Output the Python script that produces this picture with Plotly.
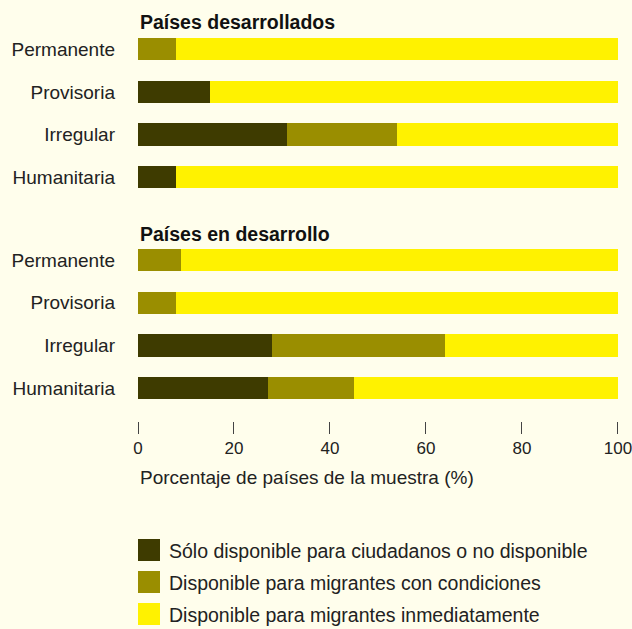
import plotly.graph_objects as go
from plotly.subplots import make_subplots

categories = ["Permanente", "Provisoria", "Irregular", "Humanitaria"]
series_names = [
    "Sólo disponible para ciudadanos o no disponible",
    "Disponible para migrantes con condiciones",
    "Disponible para migrantes inmediatamente",
]
developed_none = [0, 15, 31, 8]
developed_cond = [8, 0, 23, 0]
developed_now = [92, 85, 46, 92]
developing_none = [0, 0, 28, 27]
developing_cond = [9, 8, 36, 18]
developing_now = [91, 92, 36, 55]
panel_titles = ["Países desarrollados", "Países en desarrollo"]
x_ticks = [0, 20, 40, 60, 80, 100]
x_title = "Porcentaje de países de la muestra (%)"

colors = ["#3e3b00", "#9a8e00", "#fff200"]
bg = "#fffeec"
txt = "#222222"
font = "Liberation Sans, Arial, sans-serif"

W, H = 632, 629
L, R, T, B = 138, 14, 28, 208
pw, ph = W - L - R, H - T - B


def px_x(p):
    return (p - L) / pw


def px_y(p):
    return (H - B - p) / ph


fig = make_subplots(rows=2, cols=1, shared_xaxes=True)

panels = [
    (developed_none, developed_cond, developed_now),
    (developing_none, developing_cond, developing_now),
]
for row, vals in enumerate(panels, start=1):
    for name, v, c in zip(series_names, vals, colors):
        fig.add_trace(
            go.Bar(y=categories, x=v, name=name, orientation="h",
                   marker=dict(color=c, line_width=0), showlegend=False),
            row=row, col=1,
        )

fig.update_layout(
    width=W, height=H,
    margin=dict(l=L, r=R, t=T, b=B, autoexpand=False),
    paper_bgcolor=bg, plot_bgcolor=bg,
    barmode="stack", bargap=0.48,
    font=dict(family=font, size=19, color=txt),
)

fig.update_yaxes(categoryorder="array", categoryarray=categories,
                 ticks="", showgrid=False, zeroline=False, showline=False,
                 automargin=False,
                 ticklabelstandoff=22, tickfont=dict(size=19, color=txt))
fig.update_yaxes(domain=[px_y(198.3), 1], range=[3.5, -0.5], row=1, col=1)
fig.update_yaxes(domain=[0, px_y(238.7)], range=[3.77, -0.5], row=2, col=1)

fig.update_xaxes(range=[0, 100.01], showgrid=False, zeroline=False,
                 showline=False, automargin=False)
fig.update_xaxes(showticklabels=False, ticks="", row=1, col=1)
fig.update_xaxes(tickvals=x_ticks, ticks="outside", ticklen=12,
                 tickcolor="#444444", tickwidth=1, ticklabeloverflow="allow",
                 tickfont=dict(size=17, color=txt), row=2, col=1)

for title, yp in zip(panel_titles, [22, 234]):
    fig.add_annotation(text="<b>%s</b>" % title, xref="paper", yref="paper",
                       x=px_x(138), y=px_y(yp), xanchor="left",
                       yanchor="middle", showarrow=False,
                       font=dict(size=19.5, color="#111111"))

fig.add_annotation(text=x_title, xref="paper", yref="paper",
                   x=px_x(138), y=px_y(477), xanchor="left", yanchor="middle",
                   showarrow=False, font=dict(size=19, color=txt))

for i, (name, c) in enumerate(zip(series_names, colors)):
    top = 539 + i * 32
    fig.add_shape(type="rect", xref="paper", yref="paper",
                  x0=px_x(138), x1=px_x(160), y0=px_y(top + 22), y1=px_y(top),
                  fillcolor=c, line_width=0)
    fig.add_annotation(text=name, xref="paper", yref="paper",
                       x=px_x(167), y=px_y(top + 12), xanchor="left",
                       yanchor="middle", showarrow=False,
                       font=dict(size=19.5, color=txt))

# drop the page's default body margin so the figure fills the window
fig.write_html(
    "out.html",
    config={"displayModeBar": False},
    post_script="document.body.style.margin='0';"
                "document.body.style.overflow='hidden';"
                "document.body.style.background='%s';" % bg,
)
